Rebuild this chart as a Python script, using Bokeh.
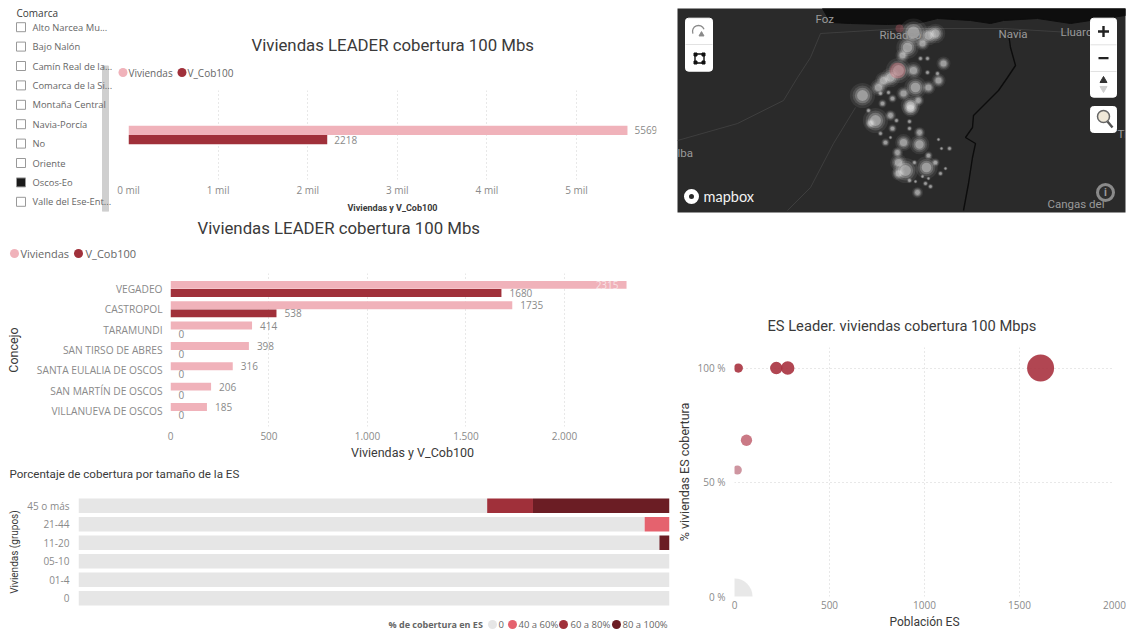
from math import sqrt
from bokeh.plotting import figure
from bokeh.layouts import row, column
from bokeh.models import Range1d, FactorRange, FixedTicker, ColumnDataSource
from bokeh.core.properties import value
from bokeh.transform import dodge
from bokeh.embed import file_html
from bokeh.resources import INLINE

# ---- data
comarcas = ["Alto Narcea Mu...", "Bajo Nalón", "Camín Real de la...", "Comarca de la Si...", "Montaña Central",
            "Navia-Porcía", "No", "Oriente", "Oscos-Eo", "Valle del Ese-Ent..."]
seleccion = ["Oscos-Eo"]

leader_cat = ["Oscos-Eo"]
leader_viv = [5569]
leader_cob = [2218]

concejos = ["VEGADEO", "CASTROPOL", "TARAMUNDI", "SAN TIRSO DE ABRES", "SANTA EULALIA DE OSCOS",
            "SAN MARTÍN DE OSCOS", "VILLANUEVA DE OSCOS"]
viviendas = [2315, 1735, 414, 398, 316, 206, 185]
v_cob100 = [1680, 538, 0, 0, 0, 0, 0]

grupos = ["45 o más", "21-44", "11-20", "05-10", "01-4", "0"]
pct_0 = [69.15, 95.8, 98.3, 100, 100, 100]
pct_40 = [0, 4.2, 0, 0, 0, 0]
pct_60 = [7.75, 0, 0, 0, 0, 0]
pct_80 = [23.1, 0, 1.7, 0, 0, 0]

es_poblacion = [0, 15, 63, 20, 220, 280, 1611]
es_cobertura = [0, 55.4, 68.4, 100, 100, 100, 100]
es_peso = [1296, 81, 128, 86, 156, 182, 729]
es_color = ["#E6E6E6", "#C98A96", "#C46A78", "#A8323F", "#A8323F", "#A8323F", "#A8323F"]

# map layer
map_x = [913, 907, 928, 935, 922, 902, 898, 890, 913, 883, 862, 878, 915, 903, 928, 938, 943, 910, 918, 882, 892, 868,
         927, 920, 927, 937, 880, 888,
         875, 870, 890, 910, 892, 880, 896, 909, 909, 885, 919, 903, 919, 897, 928, 898, 905, 898, 926, 935, 914, 949,
         940, 945, 909, 925, 930, 917, 915, 922, 928, 938, 941, 890]
map_y = [32, 47, 35, 33, 43, 55, 70, 77, 70, 80, 95, 87, 87, 93, 87, 80, 63, 105, 100, 103, 98, 110,
         58, 58, 72, 73, 93, 92,
         120, 123, 115, 108, 128, 133, 120, 121, 128, 142, 132, 142, 144, 152, 155, 162, 170, 173, 167, 162, 162, 148,
         173, 168, 180, 183, 186, 192, 181, 176, 178, 139, 148, 137]
map_r = [10, 8, 7, 7, 5, 5, 9, 7, 6, 6, 9, 6, 8, 5, 5, 5, 5, 7, 4, 3, 3, 2,
         2, 2, 2, 2, 2, 2,
         9, 4, 4, 6, 3, 2, 2, 2, 2, 3, 4, 6, 7, 4, 3, 6, 9, 5, 8, 3, 2, 2,
         2, 1.5, 2, 2, 2, 4, 1.5, 1.5, 1.5, 1.5, 1.5, 1.5]
map_place = ["Foz", "Ribadeo", "Navia", "Lluarca", "lba", "Tineo", "Cangas del"]
map_place_x = [815, 879, 998, 1060, 677, 1117, 1047]
map_place_y = [18, 34, 33, 31, 152, 133, 203]
sea_x = [822, 830, 850, 887, 917, 937, 970, 990, 1003, 1037, 1070, 1090, 1125, 1125, 822]
sea_y = [8, 22, 23, 24, 23, 18, 20, 23, 20, 18, 23, 20, 15, 8, 8]
river_x = [1008, 1010, 1015, 1007, 998, 985, 973, 972, 965, 975, 972, 968, 963]
river_y = [33, 47, 65, 77, 90, 103, 115, 127, 137, 143, 157, 183, 210]
road_x = [[820, 810, 797, 783, 737, 677], [855, 833, 810, 787], [820, 903, 1003, 1070]]
road_y = [[33, 57, 77, 100, 123, 140], [107, 143, 187, 210], [33, 28, 28, 32]]

PINK, RED, DARK, ROSE, GREY = "#F0B2BA", "#A0303A", "#6B1D24", "#E5626E", "#E6E6E6"
TXT, TICK, TITLE = "#666666", "#8A8A8A", "#3A3A3A"
F_T, F_L = value("Roboto"), "Open Sans"


def style_axis(ax):
    ax.axis_line_color = None
    ax.major_tick_line_color = None
    ax.minor_tick_line_color = None
    ax.major_tick_out = 0
    ax.major_tick_in = 0
    ax.minor_tick_out = 0
    ax.minor_tick_in = 0
    ax.major_label_text_color = TICK
    ax.major_label_text_font = F_L
    ax.major_label_text_font_size = "11px"
    ax.axis_label_text_font = "Roboto"
    ax.axis_label_text_font_style = "normal"
    ax.axis_label_text_color = TITLE


def style_title(p, text, size, offset, standoff):
    p.title.text = text
    p.title.text_font = "Roboto"
    p.title.text_font_style = "normal"
    p.title.text_font_size = size
    p.title.text_color = TITLE
    p.title.align = "left"
    p.title.offset = offset
    p.title.standoff = standoff


def base(w, h, left, right, top, bottom, **kw):
    p = figure(width=w, height=h, output_backend="svg", toolbar_location=None, frame_align=False,
               min_border_left=left, min_border_right=right, min_border_top=top, min_border_bottom=bottom, **kw)
    p.outline_line_color = None
    p.xgrid.grid_line_color = None
    p.ygrid.grid_line_color = None
    return p


def strip(w, h, top):
    """A band of the page without axes that holds a title and a legend; one unit is one pixel."""
    return base(w, h, 0, 0, top, 0, x_range=Range1d(0, w), y_range=Range1d(h - top, 0),
                x_axis_type=None, y_axis_type=None)


def legend_marks(p, names, colors, xc, xt, y, font, size=9):
    p.scatter(x=xc, y=[y] * len(names), marker="circle", size=size, color=colors, line_color=None)
    p.text(x=xt, y=[y] * len(names), text=names, text_font=value(F_L), text_font_size=font, text_color=TXT,
           text_baseline="middle")


# ---- slicer
pos = [i + 0.5 for i in range(len(comarcas))]
sl = base(112, 215, 0, 0, 17, 4, x_range=Range1d(0, 112), y_range=Range1d(len(comarcas), 0),
          x_axis_type=None, y_axis_type=None)
style_title(sl, "Comarca", "10px", 16, -4)
sl.title.text_font = F_L
sl.quad(left=[102], right=[108], top=[2.5], bottom=[10], color="#CFCFCF")
sl.scatter(x=[20.5] * len(comarcas), y=pos, marker="square", size=9, line_color="#999999",
           fill_color=["#1A1A1A" if c in seleccion else "#FFFFFF" for c in comarcas])
sl.text(x=[32] * len(comarcas), y=pos, text=comarcas, text_font=value(F_L), text_font_size="9.4px",
        text_color=TXT, text_baseline="middle")

# ---- top chart
head1 = strip(558, 90, 56)
style_title(head1, "Viviendas LEADER cobertura 100 Mbs", "16.8px", 139, 3)
legend_marks(head1, ["Viviendas", "V_Cob100"], [PINK, RED], [10.5, 69.5], [16, 75], 16, "10px")

top = base(558, 125, 16, 14, 0, 32, x_range=Range1d(0, 5893), y_range=FactorRange(factors=leader_cat))
s = ColumnDataSource(dict(c=leader_cat, v=leader_viv, d=leader_cob, vl=[str(x) for x in leader_viv], dl=[str(x) for x in leader_cob]))
top.hbar(y=dodge("c", 0.052, range=top.y_range), right="v", height=0.104, fill_color=PINK, line_color=None, source=s)
top.hbar(y=dodge("c", -0.052, range=top.y_range), right="d", height=0.104, fill_color=RED, line_color=None, source=s)
for col, lab, off in (("v", "vl", 0.052), ("d", "dl", -0.052)):
    top.text(x=col, y=dodge("c", off, range=top.y_range), text=lab, x_offset=7, text_baseline="middle",
             text_font=value(F_L), text_font_size="10px", text_color=TICK, source=s)
top.yaxis.visible = False
ax = top.xaxis[0]
style_axis(ax)
ax.ticker = FixedTicker(ticks=[0, 1000, 2000, 3000, 4000, 5000])
ax.major_label_overrides = {0: "0 mil", 1000: "1 mil", 2000: "2 mil", 3000: "3 mil", 4000: "4 mil", 5000: "5 mil"}
ax.major_label_text_font_size = "10px"
ax.major_label_standoff = 3
ax.axis_label = "Viviendas y V_Cob100"
ax.axis_label_text_font_size = "9px"
ax.axis_label_text_font_style = "bold"
ax.axis_label_standoff = 3
top.xgrid.grid_line_color = "#D0D0D0"
top.xgrid.grid_line_dash = "1 3"
top.xgrid.ticker = ax.ticker

# ---- second chart
head2 = strip(670, 58, 22)
style_title(head2, "Viviendas LEADER cobertura 100 Mbs", "16.8px", 197, 0)
legend_marks(head2, ["Viviendas", "V_Cob100"], [PINK, RED], [14, 78], [20, 85], 16, "11px")

c2 = base(670, 189, 170, 16, 0, 34, x_range=Range1d(0, 2457),
          y_range=FactorRange(factors=concejos[::-1], range_padding=0.26, range_padding_units="absolute"))
s2 = ColumnDataSource(dict(c=concejos, v=viviendas, d=v_cob100, vl=[str(x) for x in viviendas], dl=[str(x) for x in v_cob100]))
s2b = ColumnDataSource(dict(c=concejos[1:], v=viviendas[1:], vl=[str(x) for x in viviendas[1:]]))
s2a = ColumnDataSource(dict(c=concejos[:1], v=viviendas[:1], vl=[str(x) for x in viviendas[:1]]))
c2.hbar(y=dodge("c", 0.2, range=c2.y_range), right="v", height=0.39, fill_color=PINK, line_color=None, source=s2)
c2.hbar(y=dodge("c", -0.2, range=c2.y_range), right="d", height=0.39, fill_color=RED, line_color=None, source=s2)
c2.text(x="v", y=dodge("c", 0.2, range=c2.y_range), text="vl", x_offset=8, text_baseline="middle",
        text_font=value(F_L), text_font_size="10px", text_color=TICK, source=s2b)
c2.text(x="v", y=dodge("c", 0.2, range=c2.y_range), text="vl", x_offset=-8, text_align="right", text_baseline="middle",
        text_font=value(F_L), text_font_size="10px", text_color="#F8E4E6", source=s2a)
c2.text(x="d", y=dodge("c", -0.2, range=c2.y_range), text="dl", x_offset=8, text_baseline="middle",
        text_font=value(F_L), text_font_size="10px", text_color=TICK, source=s2)
ax = c2.xaxis[0]
style_axis(ax)
ax.ticker = FixedTicker(ticks=[0, 500, 1000, 1500, 2000])
ax.major_label_overrides = {0: "0", 500: "500", 1000: "1.000", 1500: "1.500", 2000: "2.000"}
ax.major_label_text_font_size = "10px"
ax.major_label_standoff = 5
ax.axis_label = "Viviendas y V_Cob100"
ax.axis_label_text_font_size = "12.5px"
ax.axis_label_standoff = 2
ay = c2.yaxis[0]
style_axis(ay)
ay.major_label_text_font_size = "10.2px"
ay.major_label_standoff = 8
ay.axis_label = "Concejo"
ay.axis_label_text_font_size = "12.5px"
ay.axis_label_standoff = 13
c2.xgrid.grid_line_color = "#D0D0D0"
c2.xgrid.grid_line_dash = "1 3"
c2.xgrid.ticker = ax.ticker

# ---- third chart
head3 = strip(670, 34, 0)
head3.text(x=[9], y=[11], text=["Porcentaje de cobertura por tamaño de la ES"], text_font=F_T, text_font_size="11.6px",
           text_color=TITLE, text_baseline="middle")

c3 = base(670, 111, 78, 1, 0, 0, x_range=Range1d(0, 100), y_range=FactorRange(factors=grupos[::-1]), x_axis_type=None)
s3 = ColumnDataSource(dict(g=grupos, a=pct_0, b=pct_40, c=pct_60, d=pct_80))
c3.hbar_stack(["a", "b", "c", "d"], y="g", height=0.78, fill_color=[GREY, ROSE, RED, DARK], line_color=None, source=s3)
ay = c3.yaxis[0]
style_axis(ay)
ay.major_label_text_font_size = "10px"
ay.major_label_standoff = 9
ay.axis_label = "Viviendas (grupos)"
ay.axis_label_text_font_size = "10px"
ay.axis_label_standoff = 4

foot3 = strip(670, 24, 0)
legend_marks(foot3, ["0", "40 a 60%", "60 a 80%", "80 a 100%"], [GREY, ROSE, RED, DARK],
             [492, 512, 563, 616], [498, 518, 570, 622], 17, "9.5px")
foot3.text(x=[388], y=[17], text=["% de cobertura en ES"], text_font=value(F_L), text_font_size="9px",
           text_font_style="bold", text_color=TXT, text_baseline="middle")

# ---- map
mp = base(456, 215, 7, 1, 8, 3, x_range=Range1d(677, 1125), y_range=Range1d(212, 8), x_axis_type=None, y_axis_type=None)
mp.background_fill_color = "#2A2A2A"
mp.patch(sea_x, sea_y, color="#0E0E0E")
mp.multi_line(road_x, road_y, line_color="#3E3E3E", line_width=1)
mp.line(river_x, river_y, line_color="#0C0C0C", line_width=1.4)
for k, a in ((2.8, 0.07), (2.2, 0.12), (1.7, 0.2), (1.2, 0.3)):
    mp.scatter(map_x, map_y, marker="circle", size=[r * k for r in map_r], color="#FFFFFF", alpha=a, line_color=None)
mp.scatter([899, 897], [28, 70], marker="circle", size=[8, 16], color="#D8606C", alpha=0.32, line_color=None)
mp.text(map_place_x, map_place_y, text=map_place, text_font=F_T, text_font_size="11.5px", text_color="#9A9A9A",
        text_baseline="middle")
# map controls
mp.quad(left=[685, 1090, 1090], right=[712, 1116, 1116], top=[17.7, 17.7, 106], bottom=[70.7, 96.7, 132],
        color="#FFFFFF", border_radius=3)
mp.segment([685, 1090, 1090], [44, 44.3, 71], [712, 1116, 1116], [44, 44.3, 71], line_color="#E2E2E2")
mp.arc([698], [31], radius=6, start_angle=0.4, end_angle=3.5, line_color="#8A8A8A", line_width=1.3, direction="anticlock")
mp.scatter([701], [34], marker="triangle", size=5, color="#8A8A8A")
mp.rect([699], [58], 9, 9, fill_color=None, line_color="#111111", line_width=1.4)
mp.scatter([695, 703, 695, 703], [54, 54, 62, 62], marker="square", size=3, color="#111111")
mp.scatter([1103], [31], marker="cross", size=11, color="#222222", line_width=2.4)
mp.segment([1098], [57.6], [1108], [57.6], line_color="#222222", line_width=2.2)
mp.scatter([1103, 1103], [80, 88], marker="triangle", size=[7, 7], color=["#333333", "#CFCFCF"], angle=[0, 3.14159])
mp.scatter([1103], [116], marker="circle", size=12, fill_color="#EFE8D8", line_color="#666666", line_width=1.5)
mp.segment([1107], [121], [1112], [127], line_color="#555555", line_width=2.4)
mp.scatter([1105], [192], marker="circle", size=16, fill_color="#2E2E2E", line_color="#8A8A8A", line_width=3)
mp.text([1105], [192], text=["i"], text_font=F_T, text_font_size="11px", text_font_style="bold", text_color="#9A9A9A",
        text_align="center", text_baseline="middle")
mp.scatter([691], [196], marker="circle", size=10, fill_color="#2A2A2A", line_color="#FFFFFF", line_width=5)
mp.text([703], [196], text=["mapbox"], text_font=value("Lato"), text_font_size="14.5px", text_color="#F2F2F2",
        text_baseline="middle")

# ---- scatter
sc = base(456, 416, 64, 12, 132, 34, x_range=Range1d(0, 2000), y_range=Range1d(0, 109))
style_title(sc, "ES Leader. viviendas cobertura 100 Mbps", "14.7px", 33, 26)
sc.xgrid.grid_line_color = "#D0D0D0"
sc.ygrid.grid_line_color = "#D0D0D0"
sc.xgrid.grid_line_dash = "1 3"
sc.ygrid.grid_line_dash = "1 3"
sc.scatter(es_poblacion, es_cobertura, marker="circle", size=[sqrt(w) for w in es_peso], color=es_color,
           alpha=0.9, line_color=None)
ax = sc.xaxis[0]
style_axis(ax)
ax.ticker = FixedTicker(ticks=[0, 500, 1000, 1500, 2000])
ax.major_label_text_font_size = "10px"
ax.major_label_standoff = 4
ax.axis_label = "Población ES"
ax.axis_label_text_font_size = "12px"
ax.axis_label_standoff = 3
ay = sc.yaxis[0]
style_axis(ay)
ay.ticker = FixedTicker(ticks=[0, 50, 100])
ay.major_label_overrides = {0: "0 %", 50: "50 %", 100: "100 %"}
ay.major_label_text_font_size = "10px"
ay.major_label_standoff = 9
ay.axis_label = "% viviendas ES cobertura"
ay.axis_label_text_font_size = "12.5px"
ay.axis_label_standoff = 2
sc.xgrid.ticker = ax.ticker
sc.ygrid.ticker = ay.ticker

left = column(row(sl, column(head1, top, spacing=0), spacing=0), head2, c2, head3, c3, foot3, spacing=0)
right = column(mp, sc, spacing=0)
page = row(left, right, spacing=0)

open("out.html", "w").write(file_html(page, INLINE))
